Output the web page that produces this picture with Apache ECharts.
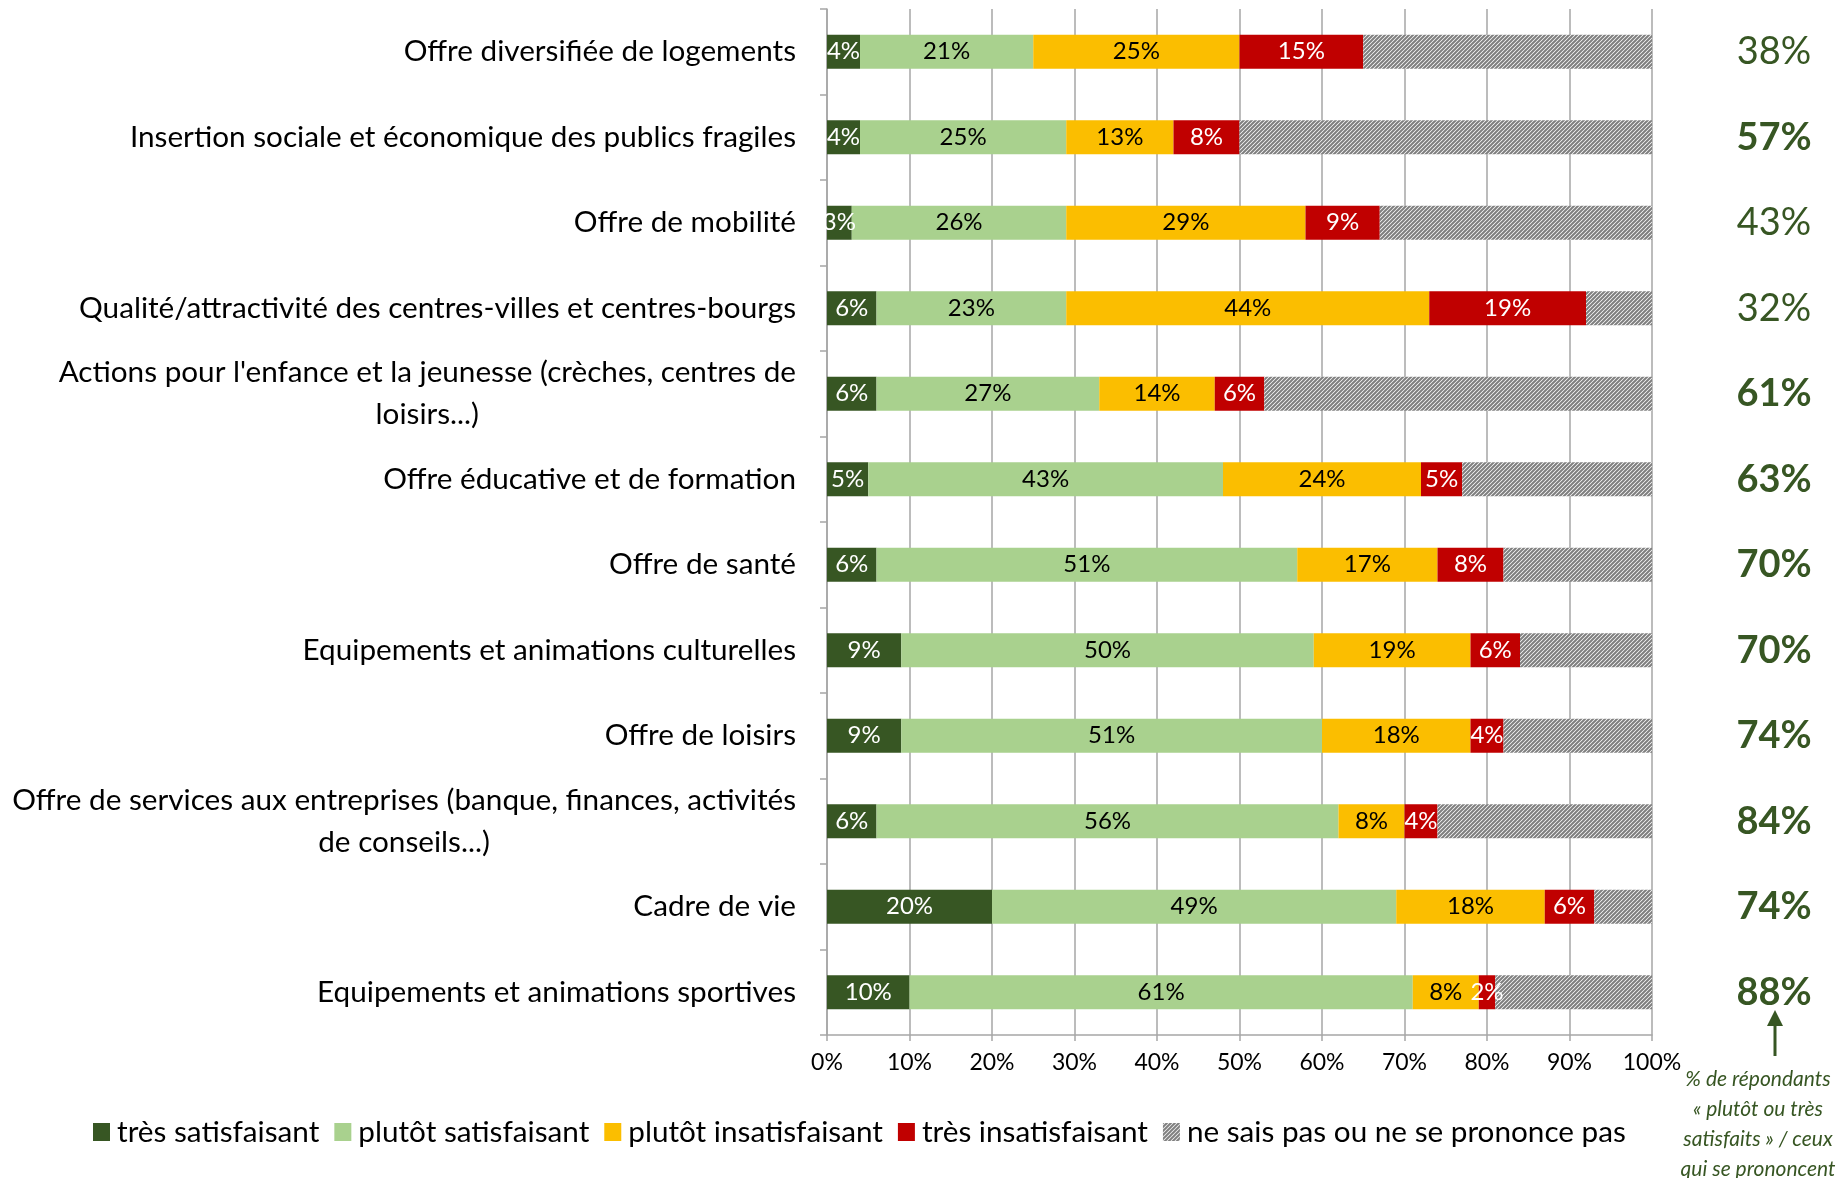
<!DOCTYPE html>
<html>
<head>
<meta charset="utf-8">
<script src="https://cdn.jsdelivr.net/npm/echarts@6/dist/echarts.min.js"></script>
<style>
  html, body { margin: 0; padding: 0; background: #fff; }
  #main { width: 1841px; height: 1178px; }
</style>
</head>
<body>
<div id="main"></div>
<script>
// categories, top to bottom
var categories = [
    'Offre diversifiée de logements',
    'Insertion sociale et économique des publics fragiles',
    'Offre de mobilité',
    'Qualité/attractivité des centres-villes et centres-bourgs',
    "Actions pour l'enfance et la jeunesse (crèches, centres de\nloisirs...)",
    'Offre éducative et de formation',
    'Offre de santé',
    'Equipements et animations culturelles',
    'Offre de loisirs',
    'Offre de services aux entreprises (banque, finances, activités\nde conseils...)',
    'Cadre de vie',
    'Equipements et animations sportives'
];

var seriesNames = ['très satisfaisant', 'plutôt satisfaisant', 'plutôt insatisfaisant', 'très insatisfaisant', 'ne sais pas ou ne se prononce pas'];

var tresSatisfait    = [4, 4, 3, 6, 6, 5, 6, 9, 9, 6, 20, 10];
var plutotSatisfait  = [21, 25, 26, 23, 27, 43, 51, 50, 51, 56, 49, 61];
var plutotInsatisf   = [25, 13, 29, 44, 14, 24, 17, 19, 18, 8, 18, 8];
var tresInsatisf     = [15, 8, 9, 19, 6, 5, 8, 6, 4, 4, 6, 2];
var nsp              = [35, 50, 33, 8, 47, 23, 18, 16, 18, 26, 7, 19];

// % satisfaits parmi ceux qui se prononcent (colonne de droite)
var satisfaits = [38, 57, 43, 32, 61, 63, 70, 70, 74, 84, 74, 88];
var satisfaitsGras = [false, true, false, false, true, true, true, true, true, true, true, true];

var xTicks = [0, 10, 20, 30, 40, 50, 60, 70, 80, 90, 100];

var FONT = 'Lato';
var GREEN = '#375623';

// hachures pour "ne sais pas"
var hatch = document.createElement('canvas');
hatch.width = 4;
hatch.height = 4;
var hctx = hatch.getContext('2d');
hctx.fillStyle = '#ffffff';
hctx.fillRect(0, 0, 4, 4);
hctx.strokeStyle = '#7f7f7f';
hctx.lineWidth = 2;
[0, 4, 8].forEach(function (c) {
    hctx.beginPath();
    hctx.moveTo(-1, c + 1);
    hctx.lineTo(c + 1, -1);
    hctx.stroke();
});

var myChart = echarts.init(document.getElementById('main'));

function barSeries(name, data, color, labelColor) {
    return {
        name: name,
        type: 'bar',
        stack: 'total',
        barWidth: 34,
        data: data,
        itemStyle: { color: color },
        label: {
            show: labelColor !== null,
            position: 'inside',
            formatter: '{c}%',
            color: labelColor,
            fontSize: 24,
            fontFamily: FONT
        },
        emphasis: { disabled: true }
    };
}

var option = {
    animation: false,
    textStyle: { fontFamily: FONT },
    grid: { left: 827, right: 189, top: 9, bottom: 143, containLabel: false },
    legend: {
        left: 88,
        top: 1112,
        itemWidth: 17,
        itemHeight: 18,
        itemGap: 15,
        icon: 'rect',
        textStyle: { fontSize: 29.7, color: '#000', fontFamily: FONT, padding: [0, 0, 0, 2] },
        data: seriesNames
    },
    xAxis: {
        type: 'value',
        min: 0,
        max: 100,
        interval: 10,
        axisLine: { show: true, lineStyle: { color: '#a6a6a6', width: 1.5 } },
        axisTick: { show: true, length: 6, lineStyle: { color: '#a6a6a6', width: 1.5 } },
        axisLabel: {
            margin: 16,
            fontSize: 23,
            color: '#000',
            formatter: function (v) { return xTicks.indexOf(v) >= 0 ? v + '%' : ''; }
        },
        splitLine: { show: true, lineStyle: { color: '#a6a6a6', width: 1.5 } }
    },
    yAxis: [
        {
            type: 'category',
            inverse: true,
            data: categories,
            axisLine: { show: true, lineStyle: { color: '#a6a6a6', width: 1.5 } },
            axisTick: { show: true, length: 7, lineStyle: { color: '#a6a6a6', width: 1.5 } },
            axisLabel: {
                margin: 31,
                color: '#000',
                fontSize: 29.7,
                formatter: function (v) {
                    return v.split('\n').map(function (l) { return '{c|' + l + '}'; }).join('\n');
                },
                rich: {
                    c: { align: 'center', fontSize: 29.7, lineHeight: 42, color: '#000', fontFamily: FONT }
                }
            }
        },
        {
            type: 'category',
            inverse: true,
            position: 'right',
            data: categories,
            axisLine: { show: false },
            axisTick: { show: false },
            axisLabel: {
                margin: 122,
                align: 'center',
                formatter: function (v, i) {
                    return (satisfaitsGras[i] ? '{b|' : '{n|') + satisfaits[i] + '%}';
                },
                rich: {
                    b: { fontSize: 38, fontWeight: 'bold', color: GREEN, fontFamily: FONT },
                    n: { fontSize: 38, fontWeight: 'normal', color: GREEN, fontFamily: FONT }
                }
            }
        }
    ],
    series: [
        barSeries(seriesNames[0], tresSatisfait, '#375623', '#ffffff'),
        barSeries(seriesNames[1], plutotSatisfait, '#a9d18e', '#000000'),
        barSeries(seriesNames[2], plutotInsatisf, '#fbbe00', '#000000'),
        barSeries(seriesNames[3], tresInsatisf, '#c00000', '#ffffff'),
        barSeries(seriesNames[4], nsp, { image: hatch, repeat: 'repeat' }, null)
    ],
    graphic: [
        {
            type: 'line',
            shape: { x1: 1775, y1: 1056, x2: 1775, y2: 1022 },
            style: { stroke: GREEN, lineWidth: 3 }
        },
        {
            type: 'polygon',
            shape: { points: [[1767, 1026], [1783, 1026], [1775, 1010]] },
            style: { fill: GREEN }
        },
        {
            type: 'text',
            x: 1758,
            y: 1064,
            style: {
                text: '% de répondants\n« plutôt ou très\nsatisfaits » / ceux\nqui se prononcent',
                font: 'italic 21px Lato',
                fill: GREEN,
                align: 'center',
                lineHeight: 30
            }
        }
    ]
};

myChart.setOption(option);
</script>
</body>
</html>
